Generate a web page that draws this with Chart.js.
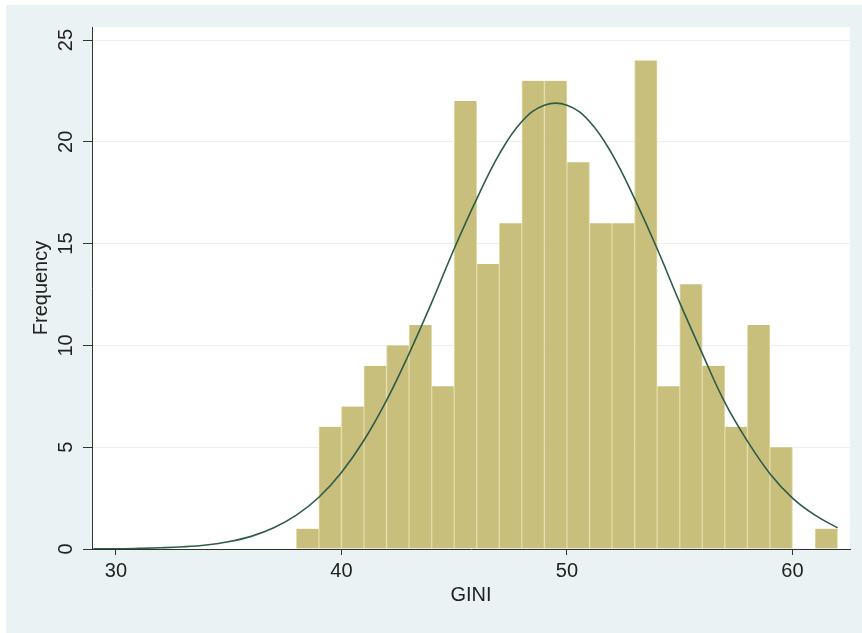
<!DOCTYPE html>
<html>
<head>
<meta charset="utf-8">
<script src="https://cdn.jsdelivr.net/npm/chart.js@4.4.1/dist/chart.umd.min.js"></script>
<style>
  body { margin: 0; background: #ffffff; }
  #wrap { width: 862px; height: 633px; }
</style>
</head>
<body>
<div id="wrap"><canvas id="giniChart" width="862" height="633"></canvas></div>
<script>
// histogram bins (width 1), bin centers and counts
const binCenters = [38.5, 39.5, 40.5, 41.5, 42.5, 43.5, 44.5, 45.5, 46.5, 47.5, 48.5, 49.5,
  50.5, 51.5, 52.5, 53.5, 54.5, 55.5, 56.5, 57.5, 58.5, 59.5, 60.5, 61.5];
const counts = [1, 6, 7, 9, 10, 11, 8, 22, 14, 16, 23, 23,
  19, 16, 16, 24, 8, 13, 9, 6, 11, 5, 0, 1];

// normal curve
const curveX = [29, 30, 31, 32, 33, 34, 35, 36, 37, 38, 39, 40, 41, 42, 43, 44, 45,
  46, 47, 48, 49, 50, 51, 52, 53, 54, 55, 56, 57, 58, 59, 60, 61, 62];
const curveY = [0.01, 0.01, 0.03, 0.06, 0.11, 0.2, 0.36, 0.62, 1.04, 1.66, 2.54, 3.76, 5.34, 7.3, 9.6, 12.1, 14.75,
  17.2, 19.4, 21.0, 21.8, 21.8, 21.0, 19.4, 17.2, 14.75, 12.1, 9.6, 7.2, 5.3, 3.7, 2.5, 1.66, 1.04];

const xTicks = [30, 40, 50, 60];
const yTicks = [0, 5, 10, 15, 20, 25];

const FONT = "'Liberation Sans', Arial, sans-serif";
const INK = '#222222';

// stata-like backdrop: light outer region, white plot region
const backdrop = {
  id: 'backdrop',
  beforeDraw(chart) {
    const { ctx, chartArea: a } = chart;
    ctx.save();
    ctx.fillStyle = '#ffffff';
    ctx.fillRect(0, 0, chart.width, chart.height);
    ctx.fillStyle = '#eaf2f3';
    ctx.fillRect(6, 5, chart.width - 6, chart.height - 5);
    ctx.fillStyle = '#ffffff';
    ctx.fillRect(a.left, a.top, a.right - a.left, a.bottom - a.top);
    ctx.restore();
  }
};

// vertical y tick labels
const yLabels = {
  id: 'yLabels',
  afterDraw(chart) {
    const { ctx } = chart;
    const y = chart.scales.y;
    ctx.save();
    ctx.fillStyle = INK;
    ctx.font = '20px ' + FONT;
    ctx.textAlign = 'center';
    ctx.textBaseline = 'alphabetic';
    yTicks.forEach(v => {
      ctx.save();
      ctx.translate(y.right - 20, y.getPixelForValue(v));
      ctx.rotate(-Math.PI / 2);
      ctx.fillText(String(v), 0, 0);
      ctx.restore();
    });
    ctx.restore();
  }
};

const ctx = document.getElementById('giniChart').getContext('2d');
new Chart(ctx, {
  type: 'bar',
  data: {
    datasets: [
      {
        type: 'line',
        data: curveX.map((x, i) => ({ x: x, y: curveY[i] })),
        borderColor: '#2f5b4b',
        borderWidth: 1.6,
        pointRadius: 0,
        tension: 0.4,
        fill: false,
        order: 0
      },
      {
        type: 'bar',
        data: binCenters.map((x, i) => ({ x: x, y: counts[i] })),
        backgroundColor: '#c9bf7c',
        borderColor: '#e4dba6',
        borderWidth: { left: 1, right: 1, top: 0, bottom: 0 },
        borderSkipped: 'bottom',
        barPercentage: 1,
        categoryPercentage: 1,
        order: 1
      }
    ]
  },
  options: {
    responsive: false,
    animation: false,
    layout: { padding: { left: 0, top: 27, right: 12, bottom: 0 } },
    plugins: {
      legend: { display: false },
      tooltip: { enabled: false }
    },
    scales: {
      x: {
        type: 'linear',
        offset: false,
        min: 28.94,
        max: 62.55,
        afterBuildTicks: s => { s.ticks = xTicks.map(v => ({ value: v })); },
        afterFit: s => { s.height = 84; },
        grid: { offset: false, drawOnChartArea: false, drawTicks: true, tickLength: 6, tickColor: '#333' },
        border: { display: true, color: '#333', width: 1 },
        ticks: { color: INK, font: { family: FONT, size: 20 }, padding: 4, maxRotation: 0 },
        title: {
          display: true, text: 'GINI', color: INK,
          font: { family: FONT, size: 20 }, padding: { top: 0, bottom: 26 }
        }
      },
      y: {
        min: 0,
        max: 25.64,
        afterBuildTicks: s => { s.ticks = yTicks.map(v => ({ value: v })); },
        afterFit: s => { s.width = 92; },
        grid: { color: '#eaf0f2', lineWidth: 1, drawTicks: true, tickLength: 9, tickColor: '#333' },
        border: { display: true, color: '#333', width: 1 },
        ticks: { display: false },
        title: {
          display: true, text: 'Frequency', color: INK,
          font: { family: FONT, size: 20 }, padding: { top: 29, bottom: 0 }
        }
      }
    }
  },
  plugins: [backdrop, yLabels]
});
</script>
</body>
</html>
